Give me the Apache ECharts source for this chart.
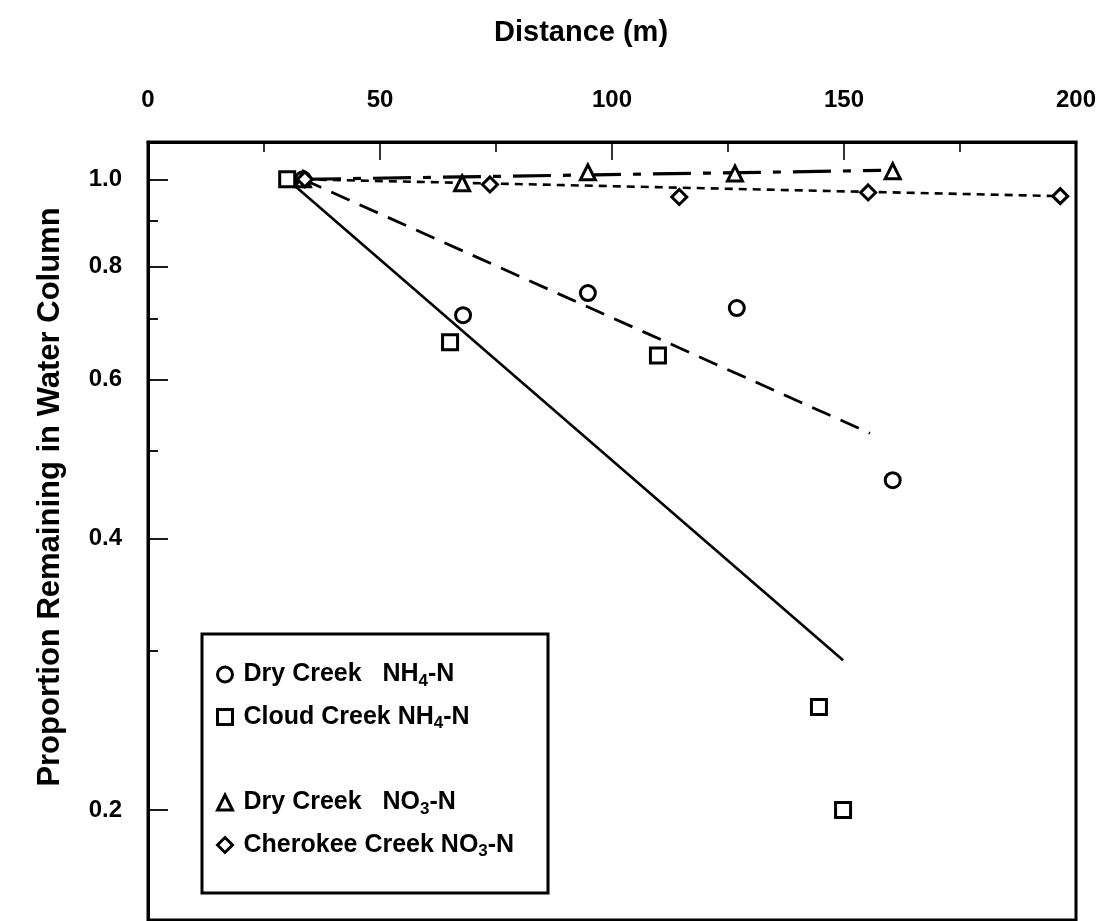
<!DOCTYPE html>
<html>
<head>
<meta charset="utf-8">
<script src="https://cdn.jsdelivr.net/npm/echarts@6/dist/echarts.min.js"></script>
<style>
  html, body { margin: 0; padding: 0; background: #fff; }
  #chart { width: 1103px; height: 921px; }
</style>
</head>
<body>
<div id="chart"></div>
<script>
// Distance downstream (m) and proportion of nutrient remaining in the water column
const dryNH4Dist   = [33.4, 67.9, 94.8, 126.9, 160.5];
const dryNH4Prop   = [1.0, 0.707, 0.748, 0.720, 0.464];
const cloudNH4Dist = [30.0, 65.1, 109.9, 144.6, 149.8];
const cloudNH4Prop = [1.0, 0.660, 0.638, 0.260, 0.200];
const dryNO3Dist   = [33.4, 67.7, 94.8, 126.5, 160.5];
const dryNO3Prop   = [1.0, 0.990, 1.018, 1.015, 1.021];
const cherNO3Dist  = [33.8, 73.7, 114.5, 155.2, 196.6];
const cherNO3Prop  = [1.0, 0.987, 0.956, 0.967, 0.958];

// Exponential decay fits (end points)
const cloudFitDist = [30.0, 149.8];
const cloudFitProp = [1.0, 0.293];
const dryNH4FitDist = [33.4, 155.6];
const dryNH4FitProp = [1.0, 0.523];
const dryNO3FitDist = [33.4, 158.0];
const dryNO3FitProp = [1.0, 1.023];
const cherFitDist = [33.8, 196.6];
const cherFitProp = [1.0, 0.958];

// Axis ticks
const yMajorTicks = [0.2, 0.4, 0.6, 0.8, 1.0];
const yMinorTicks = [0.3, 0.5, 0.7, 0.9];
const yRange = [0.151, 1.1];
const xRange = [0, 200];

const FONT = "'Liberation Sans', Arial, Helvetica, sans-serif";
const ln = Math.log;
const pairs = (xs, ys) => xs.map((x, i) => [x, ln(ys[i])]);

const markerStyle = { color: '#fff', borderColor: '#000', borderWidth: 3, opacity: 1 };

function scatter(name, symbol, size, xs, ys) {
  return {
    name, type: 'scatter', symbol, symbolSize: size,
    data: pairs(xs, ys), itemStyle: markerStyle, z: 5,
    emphasis: { disabled: true }
  };
}
function fit(xs, ys, type, width) {
  return {
    type: 'line', data: pairs(xs, ys), symbol: 'none', silent: true, z: 3,
    lineStyle: { color: '#000', width, type }
  };
}

const legendNames = {
  'Dry Creek NH4-N': '{g|}{t|Dry Creek   NH}{s|4}{t|-N}',
  'Cloud Creek NH4-N': '{g|}{t|Cloud Creek NH}{s|4}{t|-N}',
  'Dry Creek NO3-N': '{g|}{t|Dry Creek   NO}{s|3}{t|-N}',
  'Cherokee Creek NO3-N': '{g|}{t|Cherokee Creek NO}{s|3}{t|-N}'
};
const legendRich = {
  g: { width: 6 },
  t: { fontFamily: FONT, fontWeight: 'bold', fontSize: 25, color: '#000', lineHeight: 30 },
  s: { fontFamily: FONT, fontWeight: 'bold', fontSize: 17, color: '#000', lineHeight: 16, verticalAlign: 'bottom' }
};
function legend(names, top) {
  return {
    data: names, orient: 'vertical', left: 211, top,
    itemWidth: 15, itemHeight: 15, itemGap: 15,
    selectedMode: false,
    itemStyle: markerStyle,
    formatter: n => legendNames[n],
    textStyle: { rich: legendRich }
  };
}

const chart = echarts.init(document.getElementById('chart'));
chart.setOption({
  animation: false,
  backgroundColor: '#fff',
  title: {
    text: 'Distance (m)', left: 489, top: 13,
    textStyle: { fontFamily: FONT, fontWeight: 'bold', fontSize: 29, color: '#000' }
  },
  graphic: [
    {
      type: 'text', x: 50, y: 497, rotation: Math.PI / 2,
      style: {
        text: 'Proportion Remaining in Water Column',
        font: 'bold 31px ' + FONT, fill: '#000',
        align: 'center', verticalAlign: 'middle'
      }
    },
    {
      type: 'rect', z: 1,
      shape: { x: 202, y: 634, width: 346, height: 259 },
      style: { fill: '#fff', stroke: '#000', lineWidth: 3 }
    }
  ],
  legend: [
    legend(['Dry Creek NH4-N', 'Cloud Creek NH4-N'], 657),
    legend(['Dry Creek NO3-N', 'Cherokee Creek NO3-N'], 785)
  ],
  grid: {
    left: 148, right: 27, top: 142, bottom: 1,
    show: true, borderColor: '#000', borderWidth: 3,
    outerBoundsMode: 'none'
  },
  xAxis: {
    type: 'value', position: 'top', min: xRange[0], max: xRange[1], interval: 50,
    axisLine: { show: true, onZero: false, lineStyle: { color: '#000', width: 3 } },
    axisTick: { show: true, inside: true, length: 18, lineStyle: { color: '#000', width: 1.6 } },
    minorTick: { show: true, splitNumber: 2, length: 10, lineStyle: { color: '#000', width: 1.6 } },
    axisLabel: { margin: 30, color: '#000', fontFamily: FONT, fontWeight: 'bold', fontSize: 24 },
    splitLine: { show: false }
  },
  yAxis: [
    {
      type: 'value', min: ln(yRange[0]), max: ln(yRange[1]),
      axisLine: { show: true, onZero: false, lineStyle: { color: '#000', width: 3 } },
      axisTick: { show: true, inside: true, length: 20, customValues: yMajorTicks.map(ln),
                  lineStyle: { color: '#000', width: 1.8 } },
      axisLabel: {
        customValues: yMajorTicks.map(ln), margin: 26, color: '#000',
        fontFamily: FONT, fontWeight: 'bold', fontSize: 24,
        formatter: v => Math.exp(v).toFixed(1)
      },
      splitLine: { show: false }
    },
    {
      type: 'value', min: ln(yRange[0]), max: ln(yRange[1]), position: 'left',
      axisLine: { show: false, onZero: false },
      axisTick: { show: true, inside: true, length: 10, customValues: yMinorTicks.map(ln),
                  lineStyle: { color: '#000', width: 1.8 } },
      axisLabel: { show: false },
      splitLine: { show: false }
    }
  ],
  series: [
    fit(cloudFitDist, cloudFitProp, 'solid', 2.6),
    fit(dryNH4FitDist, dryNH4FitProp, [20, 11], 2.8),
    fit(dryNO3FitDist, dryNO3FitProp, [38, 12, 8, 12], 3.2),
    fit(cherFitDist, cherFitProp, [8, 6], 2.6),
    scatter('Dry Creek NH4-N', 'circle', 15, dryNH4Dist, dryNH4Prop),
    scatter('Cloud Creek NH4-N', 'rect', 15, cloudNH4Dist, cloudNH4Prop),
    scatter('Dry Creek NO3-N', 'triangle', 15, dryNO3Dist, dryNO3Prop),
    scatter('Cherokee Creek NO3-N', 'diamond', 15, cherNO3Dist, cherNO3Prop)
  ]
});
</script>
</body>
</html>
